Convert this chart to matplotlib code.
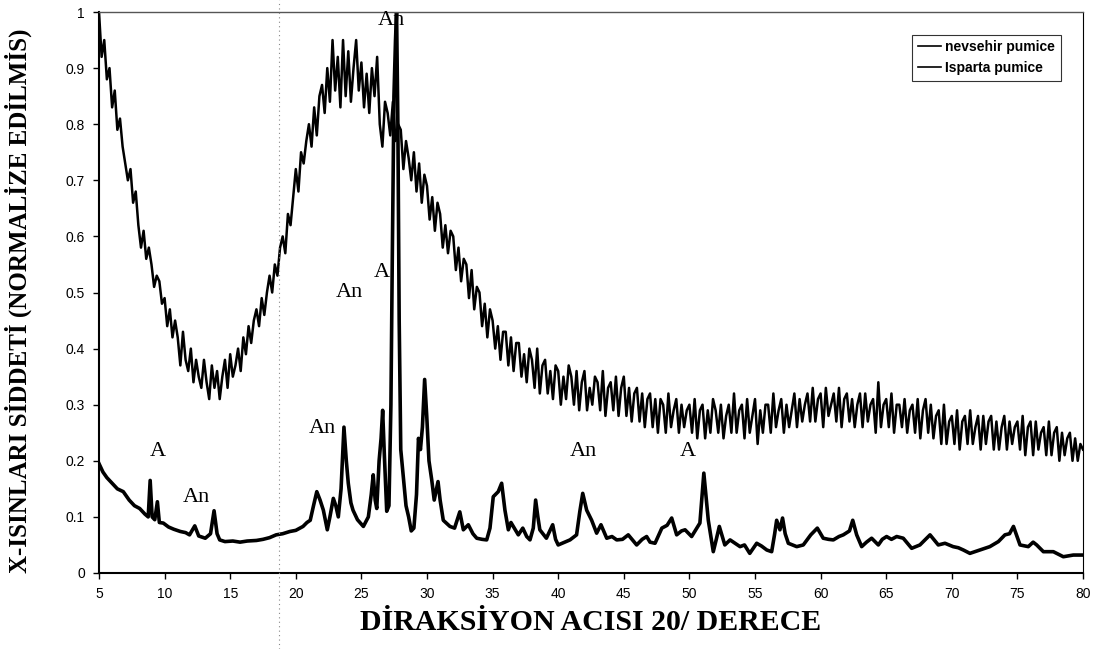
import numpy as np
import matplotlib
matplotlib.use("Agg")
import matplotlib.pyplot as plt
from matplotlib.lines import Line2D

# ---------------- data ----------------
# nevsehir pumice: sampled every 0.2 degree from 5 to 80 (values read from the picture)
nev_start, nev_step = 5.0, 0.2
nev_y = [
    1.00, 0.92, 0.95, 0.88, 0.90,  0.83, 0.86, 0.79, 0.81, 0.76,  0.73, 0.70, 0.72, 0.66, 0.68,
    0.62, 0.58, 0.61, 0.56, 0.58,  0.55, 0.51, 0.53, 0.52, 0.48,  0.49, 0.44, 0.47, 0.42, 0.45,
    0.42, 0.37, 0.43, 0.38, 0.36,  0.40, 0.34, 0.38, 0.35, 0.33,  0.38, 0.34, 0.31, 0.37, 0.33,
    0.36, 0.31, 0.35, 0.38, 0.33,  0.39, 0.35, 0.37, 0.40, 0.36,  0.42, 0.39, 0.44, 0.41, 0.45,
    0.47, 0.44, 0.49, 0.46, 0.50,  0.53, 0.50, 0.55, 0.53, 0.58,  0.60, 0.57, 0.64, 0.62, 0.67,
    0.72, 0.68, 0.75, 0.73, 0.77,  0.80, 0.76, 0.83, 0.78, 0.85,  0.87, 0.82, 0.90, 0.84, 0.95,
    0.86, 0.92, 0.83, 0.95, 0.85,  0.93, 0.84, 0.90, 0.95, 0.86,  0.91, 0.83, 0.89, 0.82, 0.90,
    0.85, 0.92, 0.80, 0.76, 0.84,  0.82, 0.78, 0.84, 0.77, 0.80,  0.79, 0.72, 0.77, 0.74, 0.70,
    0.75, 0.68, 0.73, 0.66, 0.71,  0.69, 0.63, 0.67, 0.61, 0.66,  0.64, 0.58, 0.62, 0.57, 0.61,
    0.60, 0.54, 0.58, 0.52, 0.56,  0.55, 0.49, 0.54, 0.47, 0.51,  0.50, 0.44, 0.48, 0.42, 0.47,
    0.45, 0.40, 0.44, 0.38, 0.43,  0.43, 0.37, 0.42, 0.36, 0.41,  0.41, 0.35, 0.39, 0.34, 0.40,
    0.38, 0.33, 0.40, 0.32, 0.37,  0.38, 0.32, 0.36, 0.31, 0.37,  0.36, 0.30, 0.35, 0.31, 0.37,
    0.35, 0.30, 0.36, 0.29, 0.34,  0.36, 0.29, 0.33, 0.30, 0.35,  0.34, 0.29, 0.36, 0.28, 0.33,
    0.34, 0.29, 0.35, 0.28, 0.33,  0.35, 0.28, 0.33, 0.27, 0.32,  0.33, 0.27, 0.32, 0.26, 0.31,
    0.32, 0.26, 0.31, 0.25, 0.31,  0.30, 0.25, 0.32, 0.26, 0.29,  0.31, 0.25, 0.30, 0.26, 0.29,
    0.30, 0.25, 0.31, 0.24, 0.29,  0.30, 0.24, 0.29, 0.25, 0.31,  0.29, 0.25, 0.30, 0.24, 0.28,
    0.30, 0.25, 0.32, 0.25, 0.29,  0.30, 0.24, 0.31, 0.25, 0.28,  0.31, 0.23, 0.29, 0.25, 0.30,
    0.30, 0.25, 0.32, 0.26, 0.29,  0.31, 0.25, 0.30, 0.26, 0.29,  0.32, 0.26, 0.31, 0.27, 0.30,
    0.32, 0.27, 0.33, 0.27, 0.31,  0.32, 0.26, 0.33, 0.28, 0.30,  0.32, 0.27, 0.33, 0.26, 0.31,
    0.32, 0.27, 0.31, 0.26, 0.30,  0.32, 0.26, 0.32, 0.27, 0.30,  0.31, 0.25, 0.34, 0.26, 0.30,
    0.31, 0.26, 0.32, 0.25, 0.30,  0.30, 0.26, 0.31, 0.25, 0.29,  0.30, 0.25, 0.31, 0.24, 0.29,
    0.31, 0.25, 0.30, 0.24, 0.28,  0.29, 0.23, 0.30, 0.23, 0.27,  0.28, 0.23, 0.29, 0.22, 0.27,
    0.28, 0.23, 0.29, 0.23, 0.26,  0.28, 0.22, 0.28, 0.23, 0.27,  0.28, 0.22, 0.27, 0.22, 0.26,
    0.28, 0.22, 0.27, 0.23, 0.26,  0.27, 0.22, 0.28, 0.21, 0.26,  0.27, 0.21, 0.27, 0.22, 0.25,
    0.26, 0.21, 0.27, 0.21, 0.25,  0.26, 0.20, 0.25, 0.21, 0.24,  0.25, 0.20, 0.24, 0.20, 0.23,
    0.22,
]
nev_x = nev_start + nev_step * np.arange(len(nev_y))

# Isparta pumice
isp_x = [5.0, 5.3, 5.6, 6.0, 6.4, 6.85, 7.3, 7.7, 8.1, 8.5, 8.75, 8.9, 9.05, 9.25, 9.45, 9.6,
         9.9, 10.3, 10.7, 11.2, 11.6, 11.9, 12.3, 12.6, 13.1, 13.5, 13.77, 14.0, 14.2, 14.6,
         15.2, 15.75, 16.3, 17.0, 17.5, 18.0, 18.5, 19.0, 19.55, 20.0, 20.55, 20.85, 21.1,
         21.35, 21.6, 21.85, 22.1, 22.4, 22.6, 22.86, 23.05, 23.24, 23.45, 23.67, 23.85, 24.0,
         24.2, 24.36, 24.7, 25.15, 25.53, 25.75, 25.9, 26.05, 26.17, 26.35, 26.5, 26.62, 26.75,
         26.93, 27.1, 27.25, 27.35, 27.48, 27.6, 27.68, 27.78, 27.88, 28.0, 28.2, 28.4, 28.6,
         28.8, 29.0, 29.2, 29.35, 29.5, 29.65, 29.82, 29.98, 30.15, 30.36, 30.55, 30.84, 31.0,
         31.24, 31.75, 32.1, 32.5, 32.77, 33.15, 33.5, 33.79, 34.2, 34.55, 34.8, 35.05, 35.43,
         35.69, 35.94, 36.2, 36.4, 36.58, 36.96, 37.3, 37.6, 37.85, 38.1, 38.28, 38.45, 38.6,
         39.1, 39.58, 39.8, 40.0, 40.5, 40.9, 41.4, 41.65, 41.87, 42.17, 42.55, 42.93, 43.26,
         43.7, 44.1, 44.46, 44.9, 45.34, 45.98, 46.4, 46.74, 47.0, 47.38, 47.9, 48.3, 48.65,
         49.03, 49.4, 49.67, 50.17, 50.8, 51.1, 51.44, 51.82, 52.05, 52.28, 52.7, 53.1, 53.48,
         53.86, 54.2, 54.6, 55.13, 55.5, 55.9, 56.27, 56.5, 56.65, 56.9, 57.1, 57.3, 57.54,
         58.18, 58.68, 59.25, 59.75, 60.2, 60.6, 60.97, 61.4, 61.73, 62.2, 62.45, 62.75, 63.13,
         63.5, 63.89, 64.4, 64.7, 65.03, 65.4, 65.8, 66.3, 66.94, 67.57, 68.0, 68.34, 68.97,
         69.48, 70.1, 70.5, 70.88, 71.38, 72.14, 72.9, 73.55, 74.05, 74.4, 74.7, 75.2, 75.83,
         76.2, 76.47, 76.98, 77.74, 78.5, 79.26, 80.0]
isp_y = [0.195, 0.18, 0.17, 0.16, 0.15, 0.145, 0.13, 0.12, 0.115, 0.105, 0.10, 0.165, 0.10,
         0.095, 0.127, 0.09, 0.089, 0.082, 0.078, 0.074, 0.072, 0.068, 0.084, 0.066, 0.062,
         0.07, 0.111, 0.07, 0.059, 0.056, 0.057, 0.055, 0.057, 0.058, 0.06, 0.063, 0.068, 0.07,
         0.074, 0.076, 0.083, 0.09, 0.094, 0.12, 0.145, 0.13, 0.112, 0.077, 0.10, 0.133, 0.12,
         0.10, 0.15, 0.26, 0.20, 0.16, 0.125, 0.112, 0.095, 0.083, 0.10, 0.14, 0.175, 0.13,
         0.115, 0.20, 0.24, 0.29, 0.21, 0.11, 0.12, 0.30, 0.55, 0.85, 0.95, 1.0, 0.80, 0.45,
         0.22, 0.17, 0.12, 0.10, 0.075, 0.08, 0.14, 0.24, 0.22, 0.26, 0.345, 0.28, 0.20, 0.166,
         0.13, 0.163, 0.13, 0.094, 0.083, 0.08, 0.109, 0.077, 0.086, 0.07, 0.062, 0.06, 0.059,
         0.08, 0.136, 0.145, 0.16, 0.112, 0.077, 0.09, 0.083, 0.068, 0.08, 0.065, 0.059, 0.08,
         0.13, 0.10, 0.077, 0.062, 0.086, 0.06, 0.05, 0.055, 0.059, 0.068, 0.11, 0.142, 0.112,
         0.094, 0.071, 0.086, 0.062, 0.065, 0.059, 0.06, 0.068, 0.05, 0.06, 0.065, 0.055, 0.053,
         0.08, 0.085, 0.098, 0.068, 0.075, 0.077, 0.065, 0.089, 0.178, 0.094, 0.038, 0.06,
         0.083, 0.05, 0.059, 0.053, 0.047, 0.05, 0.035, 0.053, 0.048, 0.041, 0.038, 0.07,
         0.094, 0.077, 0.098, 0.07, 0.053, 0.047, 0.05, 0.068, 0.08, 0.062, 0.06, 0.059, 0.065,
         0.068, 0.075, 0.094, 0.068, 0.047, 0.055, 0.062, 0.05, 0.06, 0.065, 0.06, 0.065,
         0.062, 0.044, 0.05, 0.06, 0.068, 0.05, 0.053, 0.047, 0.045, 0.041, 0.035, 0.041,
         0.047, 0.056, 0.068, 0.07, 0.083, 0.05, 0.047, 0.055, 0.05, 0.038, 0.038, 0.029,
         0.032, 0.032]

series_names = ["nevsehir pumice", "Isparta pumice"]

# peak labels
peak_labels = ["An", "An", "A", "An", "A", "An", "An", "A"]
peak_x = [27.25, 24.05, 26.55, 22.0, 9.5, 12.4, 41.9, 49.9]
peak_y = [0.985, 0.50, 0.536, 0.258, 0.216, 0.135, 0.216, 0.216]

x_ticks = list(range(5, 81, 5))
y_ticks = [0, 0.1, 0.2, 0.3, 0.4, 0.5, 0.6, 0.7, 0.8, 0.9, 1]
y_ticklabels = ["0", "0.1", "0.2", "0.3", "0.4", "0.5", "0.6", "0.7", "0.8", "0.9", "1"]

x_label = "DİRAKSİYON ACISI 20/ DERECE"
y_label = "X-ISINLARI SİDDETİ (NORMALİZE EDİLMİS)"

# ---------------- plot ----------------
fig = plt.figure(figsize=(11.03, 6.49), dpi=100)
ax = fig.add_axes([99 / 1103, 1 - 573 / 649, (1083 - 99) / 1103, (573 - 12) / 649])

ax.plot(nev_x, nev_y, color="black", lw=1.8, label=series_names[0])
ax.plot(isp_x, isp_y, color="black", lw=2.6, label=series_names[1])

serif = ["Liberation Serif", "DejaVu Serif"]
sans = ["Liberation Sans", "DejaVu Sans"]

for t, xx, yy in zip(peak_labels, peak_x, peak_y):
    ax.text(xx, yy, t, ha="center", va="center", fontsize=16, family=serif)

ax.set_xlim(5, 80)
ax.set_ylim(0, 1)
ax.set_xticks(x_ticks)
ax.set_yticks(y_ticks)
ax.set_yticklabels(y_ticklabels)
for lab in ax.get_xticklabels() + ax.get_yticklabels():
    lab.set_family(sans)
    lab.set_fontsize(10)
ax.tick_params(axis="both", direction="out", length=4, width=1, color="black", pad=6)

ax.spines["left"].set_linewidth(1.5)
ax.spines["bottom"].set_linewidth(1.5)
ax.spines["right"].set_linewidth(0.8)
ax.spines["top"].set_linewidth(1.0)
ax.spines["top"].set_linestyle((0, (4, 1)))
ax.spines["top"].set_color("#555555")

ax.set_xlabel(x_label, fontsize=21.5, fontweight="bold", family=serif, labelpad=6)
ax.set_ylabel(y_label, fontsize=18, fontweight="bold", family=serif)
ax.yaxis.set_label_coords(-0.068, 0.485)

leg = ax.legend(loc="upper right", bbox_to_anchor=(0.9845, 0.972), frameon=True,
                fancybox=False, edgecolor="black", handlelength=1.7, handletextpad=0.3,
                borderpad=0.4, labelspacing=0.5, prop={"family": sans, "size": 10,
                                                       "weight": "bold"})
leg.get_frame().set_linewidth(0.8)
for lh in leg.get_lines():
    lh.set_linewidth(1.2)

# scan artifact: faint dotted vertical line
fig.add_artist(Line2D([279 / 1103, 279 / 1103], [0, 1], transform=fig.transFigure,
                      color="#888888", lw=0.8, linestyle=(0, (1, 3))))

fig.savefig("out.png", dpi=100)
